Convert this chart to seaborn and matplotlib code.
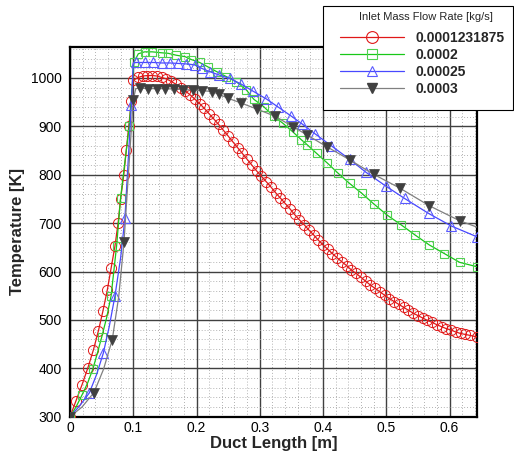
import matplotlib
matplotlib.use("Agg")
import matplotlib.pyplot as plt
import seaborn as sns
from matplotlib.lines import Line2D
from matplotlib.patches import Rectangle
from matplotlib.ticker import MultipleLocator, FuncFormatter

# ---------------- data ----------------
legend_title = "Inlet Mass Flow Rate [kg/s]"
labels = ["0.0001231875", "0.0002", "0.00025", "0.0003"]

red_x = [0, 0.0095, 0.019, 0.028, 0.037, 0.045, 0.052, 0.059, 0.065, 0.071,
         0.076, 0.080, 0.085, 0.089, 0.093, 0.097,
         0.1000, 0.1075, 0.1150, 0.1225, 0.1300, 0.1375, 0.1450, 0.1525,
         0.1600, 0.1675, 0.1750, 0.1825, 0.1900, 0.1975, 0.2050, 0.2125,
         0.2200, 0.2275, 0.2350, 0.2425, 0.2500, 0.2575, 0.2650, 0.2725,
         0.2800, 0.2875, 0.2950, 0.3025, 0.3100, 0.3175, 0.3250, 0.3325,
         0.3400, 0.3475, 0.3550, 0.3625, 0.3700, 0.3775, 0.3850, 0.3925,
         0.4000, 0.4075, 0.4150, 0.4225, 0.4300, 0.4375, 0.4450, 0.4525,
         0.4600, 0.4675, 0.4750, 0.4825, 0.4900, 0.4975, 0.5050, 0.5125,
         0.5200, 0.5275, 0.5350, 0.5425, 0.5500, 0.5575, 0.5650, 0.5725,
         0.5800, 0.5875, 0.5950, 0.6025, 0.6100, 0.6175, 0.6250, 0.6325,
         0.6430]
red_T = [300, 333, 366, 400, 438, 478, 518, 562, 607, 652,
         700, 750, 800, 851, 901, 952,
         995, 1001, 1004, 1005, 1005, 1004, 1001, 998,
         993, 987, 980, 973, 965, 956, 947, 937,
         926, 915, 904, 892, 880, 868, 856, 844,
         832, 820, 808, 797, 786, 775, 763, 752,
         741, 730, 718, 707, 697, 686, 676, 665,
         655, 646, 637, 628, 620, 612, 603, 596,
         588, 580, 572, 565, 558, 551, 544, 538,
         532, 526, 520, 514, 509, 504, 499, 495,
         490, 486, 482, 479, 475, 472, 470, 468,
         465]

green_x = [0, 0.0095, 0.019, 0.028, 0.036, 0.043, 0.050, 0.058, 0.065, 0.0737,
           0.080, 0.0937, 0.101, 0.108, 0.118, 0.130, 0.145, 0.155, 0.168, 0.182,
           0.192, 0.205, 0.218, 0.232, 0.247, 0.263, 0.279, 0.2906, 0.306, 0.322,
           0.337, 0.352, 0.366, 0.375, 0.390, 0.407, 0.424, 0.442, 0.461, 0.480,
           0.501, 0.524, 0.545, 0.568, 0.592, 0.616, 0.643]
green_T = [300, 320, 345, 370, 398, 430, 464, 505, 550, 653,
           752, 901, 1032, 1050, 1054, 1054, 1052, 1051, 1047, 1044,
           1038, 1032, 1023, 1013, 1003, 992, 975, 956, 941, 921,
           906, 889, 872, 862, 844, 824, 803, 782, 762, 740,
           717, 696, 676, 655, 637, 619, 610]
green_marks = [0, 2, 4, 6, 8] + list(range(9, 47))

blue_x = [0, 0.015, 0.0305, 0.042, 0.0526, 0.062, 0.071, 0.080, 0.0868, 0.097,
          0.100, 0.105, 0.118, 0.132, 0.145, 0.158, 0.171, 0.184, 0.197, 0.208,
          0.221, 0.236, 0.253, 0.271, 0.289, 0.310, 0.329, 0.350, 0.367, 0.388,
          0.413, 0.442, 0.468, 0.500, 0.529, 0.567, 0.603, 0.643]
blue_T = [300, 322, 349, 387, 431, 486, 549, 628, 710, 944,
          1031, 1032, 1032, 1032, 1031, 1031, 1030, 1029, 1027, 1020,
          1013, 1006, 999, 987, 973, 957, 940, 921, 905, 884,
          860, 832, 805, 776, 751, 720, 694, 672]
blue_marks = [0, 2, 4, 6, 8, 9] + list(range(11, 38))

gray_x = [0, 0.019, 0.0379, 0.053, 0.0668, 0.077, 0.0853, 0.100, 0.104,
          0.111, 0.124, 0.137, 0.150, 0.164, 0.179, 0.195, 0.208, 0.224, 0.236,
          0.250, 0.271, 0.295, 0.324, 0.353, 0.375, 0.406, 0.442, 0.480, 0.522,
          0.568, 0.616, 0.643]
gray_T = [300, 320, 350, 398, 459, 548, 660, 955, 978,
          979, 978, 978, 978, 977, 976, 975, 974, 972, 966,
          958, 948, 936, 921, 899, 882, 858, 831, 801, 772,
          736, 705, 692]
gray_marks = [0, 2, 4, 6, 7] + list(range(9, 31))

# ---------------- style ----------------
sns.set_style("white")
plt.rcParams["font.family"] = ["Liberation Sans", "DejaVu Sans"]

W, H = 514, 453
fig = plt.figure(figsize=(W / 100, H / 100), dpi=100)
ax = fig.add_axes([70 / W, 36.3 / H, 406.7 / W, 369.7 / H])

red_c, green_c, blue_c = "#e01818", "#18c818", "#4848ff"
gray_line, gray_mark = "#808080", "#404040"

sns.lineplot(x=red_x, y=red_T, ax=ax, estimator=None, sort=False, color=red_c,
             linewidth=0.9, marker="o", markersize=7.3, markerfacecolor="none",
             markeredgecolor=red_c, markeredgewidth=0.7, legend=False, zorder=3)
sns.lineplot(x=green_x, y=green_T, ax=ax, estimator=None, sort=False, color=green_c,
             linewidth=0.9, marker="s", markersize=6, markerfacecolor="none",
             markeredgecolor="#50d050", markeredgewidth=0.8, markevery=green_marks,
             legend=False, zorder=4)
sns.lineplot(x=blue_x, y=blue_T, ax=ax, estimator=None, sort=False, color=blue_c,
             linewidth=0.9, marker="^", markersize=7.5, markerfacecolor="none",
             markeredgecolor="#5a5aff", markeredgewidth=0.8, markevery=blue_marks,
             legend=False, zorder=5)
sns.lineplot(x=gray_x, y=gray_T, ax=ax, estimator=None, sort=False, color=gray_line,
             linewidth=0.9, marker="v", markersize=6.5, markerfacecolor=gray_mark,
             markeredgecolor=gray_mark, markeredgewidth=0.5, markevery=gray_marks,
             legend=False, zorder=6)

ax.set_xlim(0, 0.643)
ax.set_ylim(300, 1064)
ax.xaxis.set_major_locator(MultipleLocator(0.1))
ax.xaxis.set_minor_locator(MultipleLocator(0.02))
ax.yaxis.set_major_locator(MultipleLocator(100))
ax.yaxis.set_minor_locator(MultipleLocator(20))
ax.xaxis.set_major_formatter(FuncFormatter(
    lambda v, p: "0" if abs(v) < 1e-9 else f"{v:.1f}"))

ax.set_axisbelow(True)
ax.grid(which="major", color="#404040", linewidth=1.0, linestyle="-")
ax.grid(which="minor", color="#999999", linewidth=0.6, linestyle=(0, (1, 2.5)))

ax.tick_params(which="major", direction="in", length=6, width=1.2,
               labelsize=10, pad=3, colors="black")
ax.tick_params(which="minor", direction="in", length=3, width=0.8)
ax.tick_params(axis="y", which="major", pad=6)
for s in ax.spines.values():
    s.set_linewidth(1.6)
    s.set_color("black")

ax.set_xlabel("Duct Length [m]", fontsize=12, fontweight="bold", labelpad=1)
ax.set_ylabel("Temperature [K]", fontsize=12, fontweight="bold", labelpad=4)

# legend frame and title (figure coordinates)
frame = Rectangle((322.7 / W, 1 - 110 / H), (513.3 - 322.7) / W, (110 - 6) / H,
                  transform=fig.transFigure, facecolor="white", edgecolor="black",
                  linewidth=0.8, zorder=4.9)
fig.add_artist(frame)
title = fig.text(426 / W, 1 - 17 / H, legend_title, ha="center", va="center",
                 fontsize=8, zorder=6)

handles = [
    Line2D([], [], color=red_c, lw=0.9, marker="o", markersize=8.5,
           markerfacecolor="none", markeredgecolor=red_c, markeredgewidth=0.8),
    Line2D([], [], color=green_c, lw=0.9, marker="s", markersize=6.5,
           markerfacecolor="none", markeredgecolor="#50d050", markeredgewidth=0.8),
    Line2D([], [], color=blue_c, lw=0.9, marker="^", markersize=7.5,
           markerfacecolor="none", markeredgecolor="#5a5aff", markeredgewidth=0.8),
    Line2D([], [], color=gray_line, lw=0.9, marker="v", markersize=7,
           markerfacecolor=gray_mark, markeredgecolor=gray_mark),
]
leg = fig.legend(handles, labels, loc="upper left",
                 bbox_to_anchor=(340 / W, 1 - 30.5 / H),
                 frameon=False, borderpad=0, borderaxespad=0,
                 prop={"weight": "bold", "size": 10},
                 handlelength=4.6, handletextpad=0.84, labelspacing=0.22)
leg.set_zorder(6)

fig.savefig("out.png", dpi=100)
